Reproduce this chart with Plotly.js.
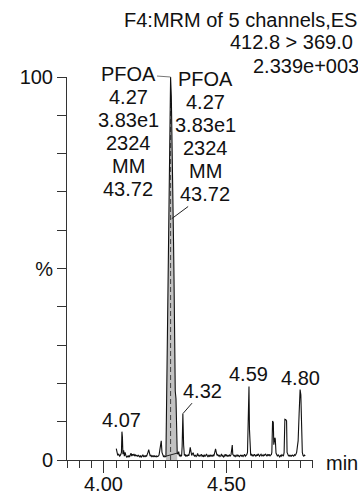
<!DOCTYPE html>
<html><head><meta charset="utf-8">
<script src="https://cdn.plot.ly/plotly-3.0.1.min.js"></script>
<style>html,body{margin:0;padding:0;background:#fff}#c{width:358px;height:495px}</style>
</head><body><div id="c"></div>
<script>
// retention time (min)
var times = [4.050,4.053,4.056,4.060,4.064,4.068,4.071,4.073,4.075,4.077,4.080,4.083,4.086,4.089,4.092,4.095,4.098,4.101,4.104,4.107,4.110,4.113,4.116,4.119,4.122,4.125,4.128,4.131,4.134,4.137,4.140,4.143,4.146,4.149,4.152,4.155,4.158,4.161,4.164,4.167,4.170,4.173,4.176,4.179,4.182,4.185,4.188,4.191,4.194,4.197,4.200,4.203,4.206,4.209,4.212,4.215,4.218,4.221,4.224,4.227,4.230,4.233,4.236,4.239,4.242,4.245,4.248,4.252,4.260,4.266,4.271,4.274,4.280,4.283,4.285,4.287,4.290,4.293,4.295,4.298,4.301,4.304,4.307,4.310,4.313,4.316,4.318,4.321,4.324,4.327,4.330,4.333,4.336,4.339,4.342,4.345,4.348,4.351,4.354,4.357,4.360,4.363,4.366,4.369,4.372,4.375,4.378,4.381,4.384,4.387,4.390,4.393,4.396,4.399,4.402,4.405,4.408,4.411,4.414,4.417,4.420,4.423,4.426,4.429,4.432,4.435,4.438,4.441,4.444,4.447,4.450,4.454,4.457,4.460,4.463,4.466,4.469,4.472,4.475,4.478,4.481,4.484,4.487,4.490,4.493,4.496,4.499,4.502,4.505,4.508,4.511,4.514,4.517,4.520,4.522,4.524,4.527,4.530,4.533,4.536,4.539,4.542,4.545,4.548,4.551,4.554,4.557,4.560,4.563,4.566,4.569,4.572,4.575,4.578,4.581,4.584,4.587,4.590,4.592,4.594,4.597,4.600,4.603,4.606,4.609,4.612,4.615,4.618,4.621,4.624,4.627,4.630,4.633,4.636,4.639,4.642,4.645,4.648,4.651,4.654,4.657,4.660,4.663,4.666,4.669,4.672,4.675,4.678,4.681,4.683,4.686,4.689,4.691,4.695,4.697,4.700,4.703,4.706,4.709,4.712,4.715,4.718,4.721,4.724,4.727,4.730,4.733,4.736,4.740,4.743,4.745,4.748,4.751,4.754,4.757,4.760,4.763,4.766,4.769,4.772,4.775,4.778,4.781,4.784,4.787,4.790,4.794,4.798,4.801,4.804,4.807,4.810,4.813,4.816,4.819,4.822];
// relative intensity (%)
var intensity = [3.0,2.2,1.2,1.5,1.0,1.4,2.0,7.4,6.0,1.5,2.5,1.0,2.0,1.2,0.8,1.0,0.7,1.2,0.8,1.3,1.8,1.0,1.5,1.2,1.6,1.0,1.4,1.1,1.2,0.9,1.3,1.0,0.7,1.2,0.8,1.0,1.4,0.9,1.1,0.8,1.2,0.9,1.3,2.0,2.7,1.3,1.0,1.3,0.9,1.1,0.8,1.2,0.9,1.0,0.8,1.1,0.9,1.0,1.3,2.5,4.5,5.0,2.0,1.0,0.9,1.1,0.8,1.0,37,70,100,95,75,57,47,33,18,16,4,1.8,1.5,2.2,1.0,1.4,1.0,1.2,3.5,12.1,4.0,1.2,1.5,0.9,1.3,1.0,1.4,1.1,2.0,3.3,2.2,1.2,1.6,1.9,1.2,1.0,1.3,0.9,1.1,1.7,1.0,1.3,0.9,1.1,1.5,1.0,1.2,0.8,1.4,1.0,1.1,1.6,1.0,0.8,1.2,1.0,1.4,0.9,1.2,1.0,1.3,1.0,1.8,2.9,2.0,1.2,1.4,1.0,1.3,0.9,1.1,1.6,1.0,1.2,0.8,1.0,1.5,1.1,1.3,0.9,1.2,1.0,1.3,1.0,1.4,3.8,3.9,1.5,1.2,1.0,1.3,0.9,1.1,1.4,1.0,1.2,0.9,1.1,1.3,1.0,1.2,0.9,1.1,1.5,1.0,1.2,1.4,2.0,10,19.2,8,1.5,1.2,1.6,1.0,1.3,1.0,1.5,1.2,1.0,1.4,1.1,1.6,1.2,1.0,1.3,1.5,1.1,1.3,1.0,1.4,1.2,1.6,1.3,1.0,1.4,1.2,1.5,1.0,1.3,1.4,2.0,10.2,9.8,4.0,5.8,5.5,1.8,1.2,1.0,1.3,1.0,0.8,1.2,1.0,1.4,1.1,1.0,2.0,10.6,10.5,10.2,2.0,1.2,1.0,1.3,0.9,1.2,1.0,1.3,1.1,1.0,1.4,1.2,1.5,2.0,3.5,5.0,12,18.4,17,8,2,1.2,1.0,1.3,1.1];

// integrated peak window (min)
var intStart = 4.252, intEnd = 4.298;
var rtMarker = 4.271;

// header text
var headerLines = ["F4:MRM of 5 channels,ES", "412.8 > 369.0", "2.339e+003"];
// peak annotation blocks
var peakBlock = ["PFOA", "4.27", "3.83e1", "2324", "MM", "43.72"];
var peakLabelTimes = [4.07, 4.32, 4.59, 4.80];
var peakLabelText = ["4.07", "4.32", "4.59", "4.80"];
// axis ticks
var yTickVals = [0,10,20,30,40,50,60,70,80,90,100];
var yTickText = ["0","","","","","%","","","","","100"];
var xLabelVals = [4.0, 4.5];
var xUnit = "min";

var FONT = "Liberation Sans, Arial, Helvetica, sans-serif";
var FS = 20;
var L = 67, R = 45, T = 77, B = 35, W = 358, H = 495;
var pw = W - L - R, ph = H - T - B;
var xr = [3.8495, 4.8505];
function px2x(p){ return xr[0] + (p - L) / pw * (xr[1]-xr[0]); }
function py2y(p){ return (H - B - p) / ph * 100; }
function px2paper(p){ return (p - L) / pw; }
function py2paper(p){ return (H - B - p) / ph; }
function apexNear(t){
  var best = 0, bi = 0;
  for (var i=0;i<times.length;i++){ if (Math.abs(times[i]-t) <= 0.012 && intensity[i] > best){ best = intensity[i]; bi = i; } }
  return {t: times[bi], v: intensity[bi]};
}

var fx = [], fy = [];
for (var i=0;i<times.length;i++){ if (times[i] >= intStart && times[i] <= intEnd){ fx.push(times[i]); fy.push(intensity[i]); } }

var traces = [
  {x: fx, y: fy, type: 'scatter', mode: 'lines', fill: 'tozeroy', fillcolor: '#c2c2c2', line: {width: 0, color: '#c2c2c2'}, hoverinfo: 'skip'},
  {x: [fx[0], fx[fx.length-1]], y: [fy[0], fy[fy.length-1]], type: 'scatter', mode: 'lines', line: {color: '#222', width: 1}, hoverinfo: 'skip'},
  {x: [rtMarker, rtMarker], y: [0, 96], type: 'scatter', mode: 'lines', line: {color: '#444', width: 1, dash: '5px,3px'}, hoverinfo: 'skip'},
  {x: times, y: intensity, type: 'scatter', mode: 'lines', line: {color: '#111', width: 1.1}, hoverinfo: 'skip'}
];

var ann = [];
var tf = {family: FONT, size: FS, color: '#111'};
// header (right edge as in the original, kept just inside the page)
var hdrX = [122, 228, 251], hdrY = [20, 42, 66];
headerLines.forEach(function(s, k){
  ann.push({xref: 'paper', yref: 'paper', x: px2paper(hdrX[k]), y: py2paper(hdrY[k]), xanchor: 'left', yanchor: 'middle', text: s, showarrow: false, font: tf});
});
// left & right PFOA blocks
var apex = apexNear(4.27);
var leftX = 128, rightX = 205, leftY0 = 74, rightY0 = 79, lineGap = 23;
peakBlock.forEach(function(s, k){
  var a = {xref: 'x', yref: 'y', x: px2x(leftX), y: py2y(leftY0 + k*lineGap), xanchor: 'center', yanchor: 'middle', text: s, showarrow: false, font: tf};
  if (k === 0){
    a = {xref: 'x', yref: 'y', x: apex.t, y: apex.v, ax: px2x(leftX), ay: py2y(leftY0), axref: 'x', ayref: 'y', text: s, showarrow: true, arrowhead: 0, arrowwidth: 1, arrowcolor: '#777', standoff: 0, font: tf};
  }
  ann.push(a);
  var b = {xref: 'x', yref: 'y', x: px2x(rightX), y: py2y(rightY0 + k*lineGap), xanchor: 'center', yanchor: 'middle', text: s, showarrow: false, font: tf};
  if (k === peakBlock.length - 1){
    b = {xref: 'x', yref: 'y', x: apex.t + 0.0045, y: 63, ax: px2x(rightX), ay: py2y(rightY0 + k*lineGap), axref: 'x', ayref: 'y', text: s, showarrow: true, arrowhead: 0, arrowwidth: 1, arrowcolor: '#222', standoff: 0, font: tf};
  }
  ann.push(b);
});
// small peak labels
peakLabelTimes.forEach(function(t, k){
  var p = apexNear(t);
  if (peakLabelText[k] === "4.32"){
    ann.push({xref: 'x', yref: 'y', x: p.t, y: p.v, ax: 20, ay: -23, text: peakLabelText[k], showarrow: true, arrowhead: 0, arrowwidth: 1, arrowcolor: '#222', standoff: 0, font: tf});
  } else {
    ann.push({xref: 'x', yref: 'y', x: p.t, y: p.v, xanchor: 'center', yanchor: 'bottom', yshift: -1, text: peakLabelText[k], showarrow: false, font: tf});
  }
});
// x tick labels (drawn as annotations so they sit close to the axis)
xLabelVals.forEach(function(v){
  ann.push({xref: 'x', yref: 'paper', x: v, y: py2paper(484), xanchor: 'center', yanchor: 'middle', text: v.toFixed(2), showarrow: false, font: tf});
});
// x unit
ann.push({xref: 'paper', yref: 'paper', x: px2paper(324), y: py2paper(463), xanchor: 'left', yanchor: 'middle', text: xUnit, showarrow: false, font: tf});

var layout = {
  width: W, height: H,
  margin: {l: L, r: R, t: T, b: B, pad: 0},
  paper_bgcolor: '#fff', plot_bgcolor: '#fff',
  showlegend: false,
  font: {family: FONT, size: FS, color: '#111'},
  xaxis: {
    range: xr, tickmode: 'linear', tick0: 4.0, dtick: 0.5, showticklabels: false,
    ticks: 'outside', ticklen: 12, tickwidth: 1, tickcolor: '#333',
    showline: true, linecolor: '#333', linewidth: 1, showgrid: false, zeroline: false,
    minor: {tickmode: 'linear', tick0: 3.85, dtick: 0.05, ticks: 'outside', ticklen: 7, tickwidth: 1, tickcolor: '#333', showgrid: false}
  },
  yaxis: {
    range: [0, 100], tickmode: 'array', tickvals: yTickVals, ticktext: yTickText,
    ticks: 'outside', ticklen: 9, tickwidth: 1, tickcolor: '#333',
    showline: true, linecolor: '#333', linewidth: 1, showgrid: false, zeroline: false,
    tickfont: {family: FONT, size: FS, color: '#111'}
  },
  annotations: ann
};
Plotly.newPlot('c', traces, layout, {staticPlot: true, displayModeBar: false});
</script></body></html>
